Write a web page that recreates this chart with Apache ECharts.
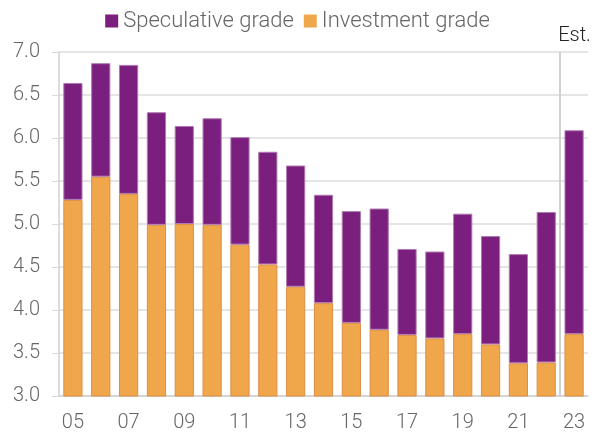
<!DOCTYPE html>
<html>
<head>
<meta charset="utf-8">
<script src="https://cdn.jsdelivr.net/npm/echarts@6/dist/echarts.min.js"></script>
<style>
  html, body { margin: 0; padding: 0; background: #fff; }
  #chart { width: 595px; height: 438px; }
</style>
</head>
<body>
<div id="chart"></div>
<script>
// years, 23 is an estimate
var years = ['05','06','07','08','09','10','11','12','13','14','15','16','17','18','19','20','21','22','23'];
var investment = [5.28, 5.55, 5.35, 4.99, 5.00, 4.99, 4.76, 4.53, 4.27, 4.08, 3.85, 3.77, 3.71, 3.67, 3.72, 3.60, 3.38, 3.39, 3.72];
var totals = [6.64, 6.87, 6.85, 6.30, 6.14, 6.23, 6.01, 5.84, 5.68, 5.34, 5.15, 5.18, 4.71, 4.68, 5.12, 4.86, 4.65, 5.14, 6.09];
var speculative = totals.map(function (t, i) { return +(t - investment[i]).toFixed(2); });
var estSplit = 17.5; // between 22 and 23

var chart = echarts.init(document.getElementById('chart'));
var font = 'Roboto';

var option = {
  animation: false,
  legend: {
    data: ['Speculative grade', 'Investment grade'],
    top: 5,
    left: 'center',
    itemWidth: 13,
    itemHeight: 13,
    itemGap: 10,
    icon: 'rect',
    itemStyle: { borderWidth: 0 },
    textStyle: { fontFamily: font, fontSize: 22, fontWeight: 300, color: '#666' }
  },
  grid: { left: 59, right: 7, top: 52, bottom: 42 },
  xAxis: [{
    type: 'category',
    data: years,
    axisLine: { lineStyle: { color: '#d0d0d0', width: 1.5 } },
    axisTick: { show: false },
    axisLabel: { interval: 1, fontFamily: font, fontSize: 20, fontWeight: 300, color: '#666', margin: 17 }
  }, {
    // helper axis so the estimate divider can sit between two categories
    type: 'value',
    show: false,
    min: -0.5,
    max: 18.5
  }],
  yAxis: {
    type: 'value',
    min: 3,
    max: 7,
    interval: 0.5,
    axisLine: { show: true, onZero: false, lineStyle: { color: '#d0d0d0', width: 1.5 } },
    axisTick: { show: true, length: 7, lineStyle: { color: '#d9d9d9' } },
    splitLine: { lineStyle: { color: '#dcdcdc', width: 1.5 } },
    axisLabel: {
      fontFamily: font, fontSize: 20, fontWeight: 300, color: '#666', margin: 19,
      formatter: function (v) { return v.toFixed(1); }
    }
  },
  series: [{
    name: 'Investment grade',
    type: 'bar',
    stack: 'total',
    data: investment,
    barCategoryGap: '31%',
    itemStyle: { color: '#f0a64a', borderColor: '#dd8f46', borderWidth: 1 }
  }, {
    name: 'Speculative grade',
    type: 'bar',
    stack: 'total',
    data: speculative,
    barCategoryGap: '31%',
    itemStyle: { color: '#7b1f7e', borderColor: '#b07ab2', borderWidth: 1 }
  }, {
    type: 'scatter',
    xAxisIndex: 1,
    data: [],
    markLine: {
      silent: true,
      symbol: 'none',
      lineStyle: { color: '#d0d0d0', type: 'solid', width: 2 },
      label: {
        show: true,
        position: 'end',
        formatter: 'Est.',
        fontFamily: font,
        fontSize: 20,
        fontWeight: 300,
        color: '#222',
        align: 'left',
        offset: [-2, -1]
      },
      data: [{ xAxis: estSplit }]
    }
  }]
};

chart.setOption(option);
</script>
</body>
</html>
